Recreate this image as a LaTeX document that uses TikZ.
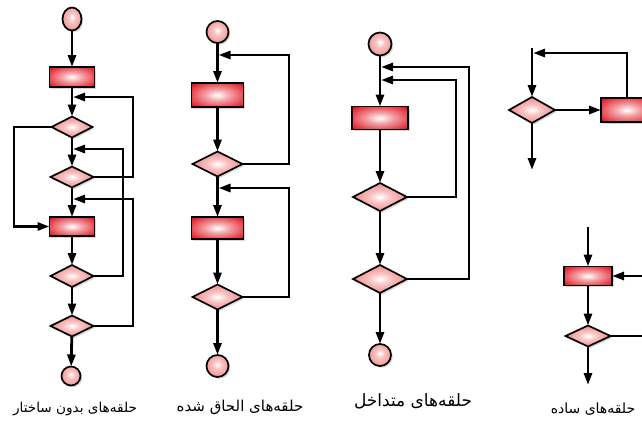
\documentclass[tikz,border=0pt]{standalone}
\usepackage{fontspec}
\newfontfamily\arabicfont[Script=Arabic]{DejaVu Sans}
\TeXXeTstate=1
\usetikzlibrary{shapes.geometric,arrows.meta,shadows}
\definecolor{rectred}{HTML}{E0101C}
\definecolor{diapink}{HTML}{EE6A6A}
\definecolor{circpink}{HTML}{EE7C7C}
\pgfdeclareradialshading{rectsh}{\pgfpoint{0bp}{0bp}}{color(0bp)=(white); color(12bp)=(rectred!40!white); color(34bp)=(rectred); color(60bp)=(rectred)}
\pgfdeclareradialshading{diash}{\pgfpoint{0bp}{0bp}}{color(0bp)=(white); color(10bp)=(diapink!40!white); color(34bp)=(diapink); color(60bp)=(diapink)}
\pgfdeclareradialshading{circsh}{\pgfpoint{0bp}{4bp}}{color(0bp)=(white); color(10bp)=(circpink!45!white); color(36bp)=(circpink); color(60bp)=(circpink)}
\tikzset{
  base/.style={draw=black, line width=1.7pt, inner sep=0pt, outer sep=0pt,
    drop shadow={shadow xshift=1.8pt, shadow yshift=-1.8pt, opacity=0.3}},
  procbox/.style={base, rectangle, shading=rectsh},
  decbox/.style={base, diamond, shading=diash},
  termbox/.style={base, ellipse, shading=circsh},
  conn/.style={line width=2.8pt, -{Triangle[length=12pt,width=8pt]}},
  lbl/.style={font=\arabicfont, inner sep=0pt}
}
\begin{document}
\begin{tikzpicture}[x=1pt,y=-1pt]
\useasboundingbox (0,0) rectangle (642,421);
\clip (0,0) rectangle (642,421);
\fill[white] (0,0) rectangle (642,421);

% ---------- Panel 1: unstructured loops ----------
\node[termbox, minimum width=19pt, minimum height=23pt] (s1) at (72,19) {};
\node[procbox, minimum width=45pt, minimum height=20pt] (r1) at (72,77) {};
\node[decbox, minimum width=41pt, minimum height=21pt] (d1) at (72,127) {};
\node[decbox, minimum width=43pt, minimum height=21pt] (d2) at (72,177) {};
\node[procbox, minimum width=45pt, minimum height=19pt] (r2) at (72,226.5) {};
\node[decbox, minimum width=43pt, minimum height=22pt] (d3) at (72,276) {};
\node[decbox, minimum width=43pt, minimum height=21pt] (d4) at (72,326) {};
\node[termbox, minimum width=19pt, minimum height=19pt] (e1) at (71,376) {};
\coordinate (j1) at (73,97);
\coordinate (j2) at (73,149);
\coordinate (j3) at (73,199);
\draw[conn] (s1) -- (r1);
\draw[conn] (r1) -- (d1);
\draw[conn] (d1) -- (d2);
\draw[conn] (d2) -- (r2);
\draw[conn] (r2) -- (d3);
\draw[conn] (d3) -- (d4);
\draw[conn] (d4) -- (e1);
\draw[conn] (d2.east) -- (133,177) |- (j1);
\draw[conn] (d3.east) -- (123,276) |- (j2);
\draw[conn] (d4.east) -- (133,326) |- (j3);
\draw[conn] (d1.west) -- (14,127) |- (r2.west);
\node[lbl, font=\arabicfont\fontsize{13.6}{16}\selectfont] (L1) at (75,409) {\beginR حلقه‌های بدون ساختار\endR};

% ---------- Panel 2: concatenated loops ----------
\node[termbox, minimum width=22pt, minimum height=22pt] (s2) at (217.5,32) {};
\node[procbox, minimum width=52pt, minimum height=24pt] (r3) at (217.5,95) {};
\node[decbox, minimum width=50pt, minimum height=25pt] (d5) at (217.5,164) {};
\node[procbox, minimum width=52pt, minimum height=22pt] (r4) at (217.5,228) {};
\node[decbox, minimum width=50pt, minimum height=25pt] (d6) at (217.5,297) {};
\node[termbox, minimum width=22pt, minimum height=22pt] (e2) at (217.5,366) {};
\coordinate (j4) at (218.5,55);
\coordinate (j5) at (218.5,188);
\draw[conn] (s2) -- (r3);
\draw[conn] (r3) -- (d5);
\draw[conn] (d5) -- (r4);
\draw[conn] (r4) -- (d6);
\draw[conn] (d6) -- (e2);
\draw[conn] (d5.east) -- (289,164) |- (j4);
\draw[conn] (d6.east) -- (289,297) |- (j5);
\node[lbl, font=\arabicfont\fontsize{15}{18}\selectfont] (L2) at (240,407) {\beginR حلقه‌های الحاق شده\endR};

% ---------- Panel 3: nested loops ----------
\node[termbox, minimum width=23pt, minimum height=23pt] (s3) at (380,44) {};
\node[procbox, minimum width=56pt, minimum height=23pt] (r5) at (380,118) {};
\node[decbox, minimum width=54pt, minimum height=28pt] (d7) at (380,197) {};
\node[decbox, minimum width=54pt, minimum height=28pt] (d8) at (380,279) {};
\node[termbox, minimum width=22pt, minimum height=22pt] (e3) at (380,355) {};
\coordinate (j6) at (381,80);
\coordinate (j7) at (381,67);
\draw[conn] (s3) -- (r5);
\draw[conn] (r5) -- (d7);
\draw[conn] (d7) -- (d8);
\draw[conn] (d8) -- (e3);
\draw[conn] (d7.east) -- (456,197) |- (j6);
\draw[conn] (d8.east) -- (469,279) |- (j7);
\node[lbl, font=\arabicfont\fontsize{17}{20}\selectfont] (L3) at (413,401) {\beginR حلقه‌های متداخل\endR};

% ---------- Panel 4: simple loops ----------
\coordinate (t1) at (532,48);
\coordinate (t2) at (532,170);
\coordinate (j8) at (533,53);
\node[decbox, minimum width=46pt, minimum height=26pt] (d9) at (532,110) {};
\node[procbox, minimum width=52pt, minimum height=24pt] (r6) at (627,110) {};
\draw[conn] (t1) -- (d9);
\draw[conn] (d9) -- (r6);
\draw[conn] (r6.north) -- (627,53) -- (j8);
\draw[conn] (d9) -- (t2);

\coordinate (t3) at (588,227);
\coordinate (t4) at (588,385);
\node[procbox, minimum width=48pt, minimum height=19pt] (r7) at (588,276) {};
\node[decbox, minimum width=45pt, minimum height=21pt] (d10) at (588,336) {};
\draw[conn] (t3) -- (r7);
\draw[conn] (r7) -- (d10);
\draw[conn] (d10) -- (t4);
\draw[conn] (d10.east) -- (662,336) -- (662,276) -- (r7.east);
\node[lbl, font=\arabicfont\fontsize{14}{17}\selectfont] (L4) at (593,409) {\beginR حلقه‌های ساده\endR};
\end{tikzpicture}
\end{document}
